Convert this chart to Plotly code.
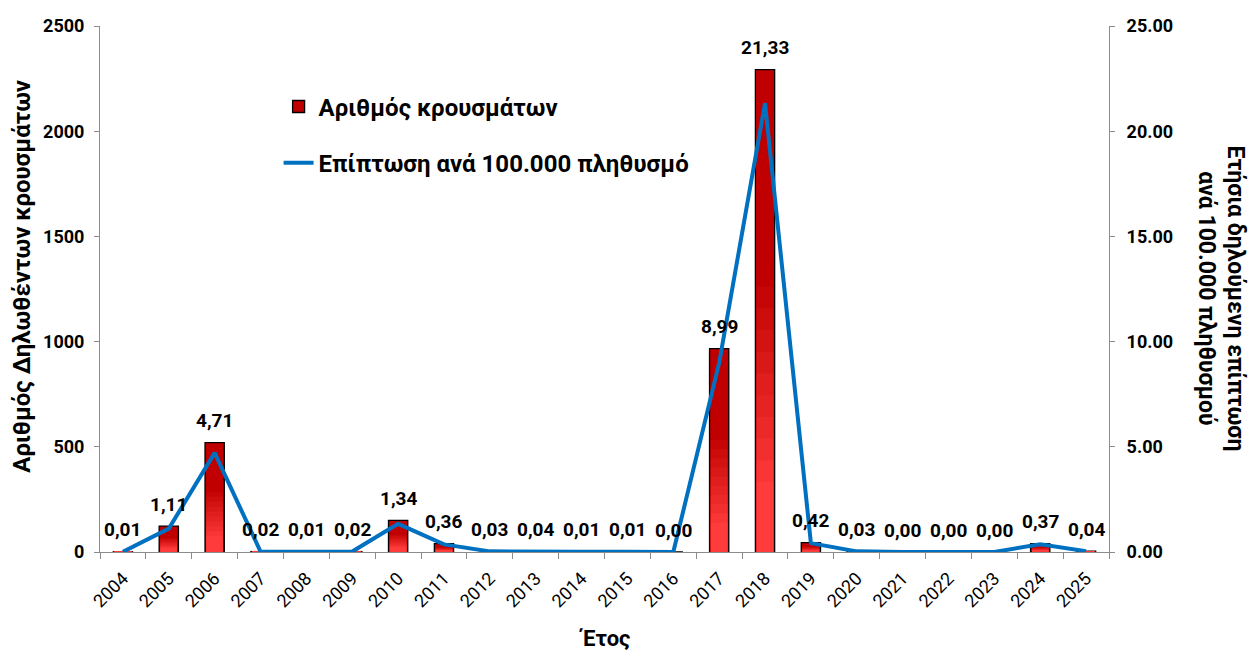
import plotly.graph_objects as go

years = [str(y) for y in range(2004, 2026)]
cases = [1, 123, 520, 2, 1, 2, 150, 40, 3, 4, 1, 1, 0, 967, 2293, 45, 3, 0, 0, 0, 40, 4]
incidence = [0.01, 1.11, 4.71, 0.02, 0.01, 0.02, 1.34, 0.36, 0.03, 0.04, 0.01, 0.01,
             0.00, 8.99, 21.33, 0.42, 0.03, 0.00, 0.00, 0.00, 0.37, 0.04]
incidence_labels = [f"{v:.2f}".replace(".", ",") for v in incidence]

FONT = "Roboto"
BAR_W = 0.42

fig = go.Figure()

fig.add_trace(go.Bar(
    x=years, y=cases, name="Αριθμός κρουσμάτων", width=BAR_W,
    marker=dict(color="#C00000", line=dict(color="black", width=1.3)),
    yaxis="y", legendgroup="a",
))
# stepped shading to imitate the vertical gradient in the lower part of each bar
top_rgb, bot_rgb = (192, 0, 0), (255, 59, 59)
steps = 10
for k in range(steps):
    frac = 0.55 - k * 0.045
    t = (k + 1) / steps
    rgb = tuple(round(a + (b - a) * t) for a, b in zip(top_rgb, bot_rgb))
    fig.add_trace(go.Bar(
        x=years, y=[c * frac for c in cases], width=BAR_W - 0.06,
        marker=dict(color="rgb(%d,%d,%d)" % rgb, line=dict(width=0)),
        showlegend=False, hoverinfo="skip", yaxis="y",
    ))

fig.add_trace(go.Scatter(
    x=years, y=incidence, name="Επίπτωση ανά 100.000 πληθυσμό",
    mode="lines", line=dict(color="#0070C0", width=4),
    yaxis="y2", legendgroup="b",
))

for i, (c, v, lab) in enumerate(zip(cases, incidence, incidence_labels)):
    fig.add_annotation(
        x=i, y=max(c, v * 100), xref="x", yref="y", text=lab, showarrow=False,
        yshift=22, font=dict(family=FONT, size=19, color="black", weight="bold"),
    )

fig.add_annotation(
    x=-0.077, y=0.524, xref="paper", yref="paper", text="<b>Αριθμός Δηλωθέντων κρουσμάτων</b>",
    textangle=-90, showarrow=False, font=dict(family=FONT, size=24, color="black"),
    xanchor="center", yanchor="middle",
)
fig.add_annotation(
    x=1.111, y=0.482, xref="paper", yref="paper",
    text="<b>Ετήσια δηλούμενη επίπτωση<br>ανά 100.000 πληθυσμού</b>",
    textangle=90, showarrow=False, font=dict(family=FONT, size=23, color="black"),
    xanchor="center", yanchor="middle",
)
fig.add_annotation(
    x=0.5, y=-0.165, xref="paper", yref="paper", text="<b>Έτος</b>", showarrow=False,
    font=dict(family=FONT, size=22, color="black"), xanchor="center", yanchor="middle",
)

axis_grey = "#8C8C8C"
fig.update_layout(
    width=1251, height=652,
    margin=dict(l=100, r=142, t=26, b=100),
    paper_bgcolor="white", plot_bgcolor="white",
    barmode="overlay",
    font=dict(family=FONT, color="black"),
    showlegend=True,
    legend=dict(x=0.177, y=0.889, xanchor="left", yanchor="top",
                font=dict(family=FONT, size=24, color="black", weight="bold"),
                tracegroupgap=22, traceorder="grouped", bgcolor="rgba(0,0,0,0)"),
    xaxis=dict(type="category", range=[-0.5, len(years) - 0.5], autorange=False,
               tickangle=-45, tickson="boundaries", ticks="outside", ticklabelstandoff=8,
               ticklen=6, tickcolor=axis_grey, showline=True, linecolor=axis_grey,
               tickfont=dict(family=FONT, size=18, color="black"), showgrid=False),
    yaxis=dict(range=[0, 2500], dtick=500, ticks="outside", ticklen=5, tickcolor=axis_grey,
               ticklabelstandoff=6,
               showline=True, linecolor=axis_grey, showgrid=False, zeroline=False,
               tickfont=dict(family=FONT, size=18, color="black", weight="bold")),
    yaxis2=dict(range=[0, 25], dtick=5, tickformat=".2f", overlaying="y", side="right",
                ticks="outside", ticklen=5, tickcolor=axis_grey, showline=True,
                ticklabelstandoff=8,
                linecolor=axis_grey, showgrid=False, zeroline=False,
                tickfont=dict(family=FONT, size=18, color="black", weight="bold")),
)

fig.write_html(
    "out.html",
    config={"displayModeBar": False},
    post_script="document.body.style.margin='0';document.body.style.overflow='hidden';",
)
